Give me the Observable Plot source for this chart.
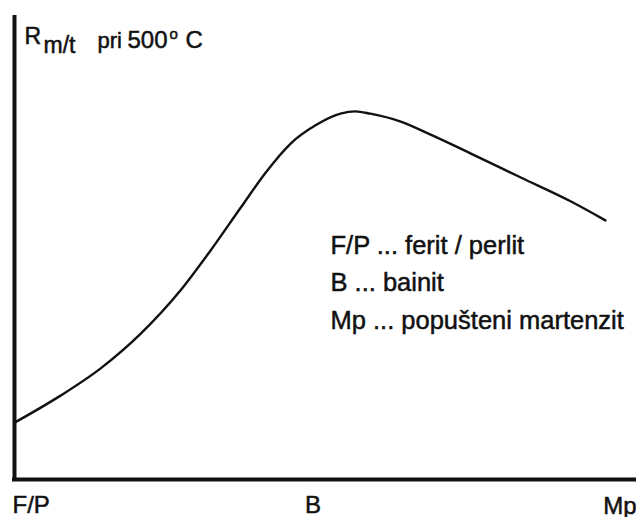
<!DOCTYPE html>
<html><head><meta charset="utf-8">
<script src="https://cdn.jsdelivr.net/npm/d3@7"></script>
<script src="https://cdn.jsdelivr.net/npm/@observablehq/plot@0.6"></script>
<style>body{margin:0;background:#fff} svg{display:block}</style>
</head><body><div id="chart"></div>
<script>
// Curve (abstract units 0..100)
const curveX = [0, 7.4, 13.8, 20.3, 26.7, 31.5, 36.3, 40.4, 44.4, 48.4, 52.4, 54.8, 57.2, 62.1, 66.9, 73.3, 81.4, 89.4, 95.0];
const curveY = [12.2, 18.0, 23.8, 31.3, 40.6, 49.1, 58.2, 65.9, 72.1, 76.0, 78.5, 79.0, 78.5, 76.8, 74.0, 70.0, 64.8, 59.7, 55.6];
const xLabels = ["F/P", "B", "Mp"];
const xLabelPos = [0, 48, 100];
const legendLines = ["F/P ... ferit / perlit", "B ... bainit", "Mp ... popušteni martenzit"];
const titleParts = ["R", "m/t", "pri", "500", "o", "C"];

const data = curveX.map((x, i) => ({x, y: curveY[i]}));
const font = "'Liberation Sans', Arial, Helvetica, sans-serif";
const ink = "#111";
const heavy = {fill: ink, stroke: ink, strokeWidth: 0.5, fontFamily: font};

// title pieces: [dx, baseline dy, fontSize]
const titleLayout = [[10, 30, 23], [29, 39, 23], [83, 34, 22], [113, 34, 24], [155, 25, 15], [171, 34, 24]];

const marks = [
  Plot.line(data, {x: "x", y: "y", curve: "monotone-x", stroke: ink, strokeWidth: 2.4}),
  Plot.ruleX([0], {stroke: ink, strokeWidth: 4, y1: 0, y2: 100, insetBottom: -2}),
  Plot.ruleY([0], {stroke: ink, strokeWidth: 4, insetLeft: -2}),
  Plot.text([xLabels[0]], {x: xLabelPos[0], frameAnchor: "bottom", dy: 33, dx: -2, lineAnchor: "bottom", textAnchor: "start", fontSize: 24, ...heavy}),
  Plot.text([xLabels[1]], {x: xLabelPos[1], frameAnchor: "bottom", dy: 33, lineAnchor: "bottom", textAnchor: "middle", fontSize: 24, ...heavy}),
  Plot.text([xLabels[2]], {x: xLabelPos[2], frameAnchor: "bottom", dy: 34, lineAnchor: "bottom", textAnchor: "end", fontSize: 24, ...heavy}),
  Plot.text([legendLines.join("\n")], {x: 50.8, y: 32.4, lineAnchor: "bottom", textAnchor: "start", lineHeight: 1.47, fontSize: 25.5, ...heavy}),
  ...titleParts.map((t, i) => Plot.text([t], {frameAnchor: "top-left", dx: titleLayout[i][0], dy: titleLayout[i][1], lineAnchor: "bottom", textAnchor: "start", fontSize: titleLayout[i][2], ...heavy}))
];

const chart = Plot.plot({
  width: 636,
  height: 517,
  marginLeft: 14,
  marginRight: 0,
  marginTop: 13,
  marginBottom: 38,
  x: {domain: [0, 100], axis: null},
  y: {domain: [0, 100], axis: null},
  style: {background: "#fff", overflow: "visible"},
  marks
});
document.getElementById("chart").append(chart);
</script>
</body></html>
